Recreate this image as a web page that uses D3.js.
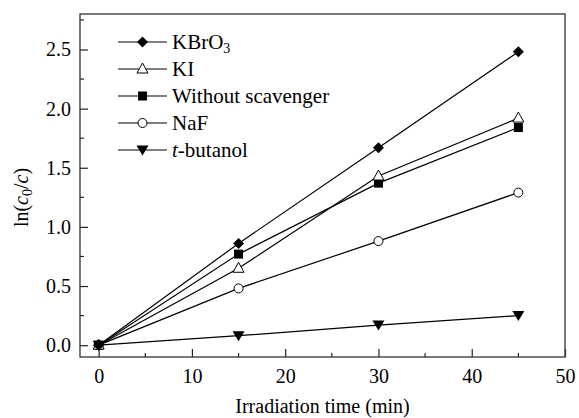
<!DOCTYPE html>
<html><head><meta charset="utf-8">
<script src="https://cdn.jsdelivr.net/npm/d3@7"></script>
<style>body{margin:0;background:#fff}svg{display:block}text{font-family:"Liberation Serif","Times New Roman",serif !important;fill:#000}</style>
</head><body><svg id="c" width="579" height="418"></svg>
<script>
const times = [0, 15, 30, 45];
const kbro3 = [0, 0.86, 1.67, 2.48];
const ki = [0, 0.65, 1.43, 1.92];
const without = [0, 0.77, 1.37, 1.84];
const naf = [0, 0.48, 0.88, 1.29];
const tbutanol = [0, 0.08, 0.17, 0.25];
const xTicks = [0, 10, 20, 30, 40, 50];
const yTicks = [0.0, 0.5, 1.0, 1.5, 2.0, 2.5];

const series = [
  {name: "KBrO3", values: kbro3, sym: "diamond"},
  {name: "KI", values: ki, sym: "triangle"},
  {name: "Without scavenger", values: without, sym: "square"},
  {name: "NaF", values: naf, sym: "circle"},
  {name: "t-butanol", values: tbutanol, sym: "tridown"}
];

const L = 80, R = 565, T = 14, B = 357;
const svg = d3.select("#c");
const x = d3.scaleLinear().domain([-2, 50]).range([L, R]);
const y = d3.scaleLinear().domain([-0.1, 2.8]).range([B, T]);
const fs = 20;
const ff = "'Liberation Serif','Times New Roman',serif";

function marker(g, type, cx, cy) {
  if (type === "diamond") g.append("path").attr("d", `M${cx},${cy-5.5}L${cx+5.5},${cy}L${cx},${cy+5.5}L${cx-5.5},${cy}Z`).attr("fill", "#000");
  else if (type === "square") g.append("rect").attr("x", cx-4.5).attr("y", cy-4.5).attr("width", 9).attr("height", 9).attr("fill", "#000");
  else if (type === "triangle") g.append("path").attr("d", `M${cx},${cy-6}L${cx+5.5},${cy+4}L${cx-5.5},${cy+4}Z`).attr("fill", "#fff").attr("stroke", "#000").attr("stroke-width", 1);
  else if (type === "circle") g.append("circle").attr("cx", cx).attr("cy", cy).attr("r", 4.5).attr("fill", "#fff").attr("stroke", "#000").attr("stroke-width", 1);
  else if (type === "tridown") g.append("path").attr("d", `M${cx-6},${cy-4.5}L${cx+6},${cy-4.5}L${cx},${cy+5.5}Z`).attr("fill", "#000");
}

// axes
const xAxis = d3.axisBottom(x).tickValues(xTicks).tickSize(-8).tickPadding(12).tickFormat(d3.format("d"));
const gx = svg.append("g").attr("transform", `translate(0,${B})`).call(xAxis);
const yAxis = d3.axisLeft(y).tickValues(yTicks).tickSize(-8).tickPadding(9).tickFormat(d3.format(".1f"));
const gy = svg.append("g").attr("transform", `translate(${L},0)`).call(yAxis);
[gx, gy].forEach(g => {
  g.attr("font-family", ff).attr("font-size", fs);
  g.select(".domain").remove();
  g.selectAll("line").attr("stroke", "#222").attr("stroke-width", 1.2);
  g.selectAll("text").style("font-size", fs + "px").style("font-family", ff).attr("fill", "#000");
});
gx.selectAll("text").attr("dy", "0.71em");
// minor ticks
const xMinor = d3.range(5, 50, 10);
svg.append("g").selectAll("line").data(xMinor).join("line")
  .attr("x1", d => x(d)).attr("x2", d => x(d)).attr("y1", B).attr("y2", B - 4)
  .attr("stroke", "#222").attr("stroke-width", 1.2);
const yMinor = [0.25, 0.75, 1.25, 1.75, 2.25, 2.75];
svg.append("g").selectAll("line").data(yMinor).join("line")
  .attr("y1", d => y(d)).attr("y2", d => y(d)).attr("x1", L).attr("x2", L + 4)
  .attr("stroke", "#222").attr("stroke-width", 1.2);
// frame
svg.append("rect").attr("x", L).attr("y", T).attr("width", R - L).attr("height", B - T)
  .attr("fill", "none").attr("stroke", "#333").attr("stroke-width", 1.3);

// lines
const line = d3.line().x((d, i) => x(times[i])).y(d => y(d));
series.forEach(s => {
  svg.append("path").attr("d", line(s.values)).attr("fill", "none").attr("stroke", "#000").attr("stroke-width", 1.2);
});
series.slice().reverse().forEach(s => {
  const g = svg.append("g");
  s.values.forEach((v, i) => marker(g, s.sym, x(times[i]), y(v)));
});

// legend
const legY0 = 42, legDy = 27;
series.forEach((s, i) => {
  const yy = legY0 + i * legDy;
  const g = svg.append("g");
  g.append("line").attr("x1", 118).attr("x2", 167).attr("y1", yy).attr("y2", yy).attr("stroke", "#000").attr("stroke-width", 1.2);
  marker(g, s.sym, 142.5, yy);
  const t = g.append("text").attr("x", 172).attr("y", yy + 7).style("font-size", (fs + 1) + "px");
  if (s.name === "KBrO3") {
    t.append("tspan").text("KBrO");
    t.append("tspan").text("3").style("font-size", "14px").attr("dy", 4);
  } else if (s.name === "t-butanol") {
    t.append("tspan").text("t").style("font-style", "italic");
    t.append("tspan").text("-butanol");
  } else t.text(s.name);
});

// axis titles
svg.append("text").attr("x", (L + R) / 2).attr("y", 413).attr("text-anchor", "middle").style("font-size", fs + "px").text("Irradiation time (min)");
const yl = svg.append("text").attr("transform", `translate(28,${(T + B) / 2 + 12}) rotate(-90)`).attr("text-anchor", "middle").style("font-size", fs + "px");
yl.append("tspan").text("ln(");
yl.append("tspan").text("c").style("font-style", "italic");
yl.append("tspan").text("0").style("font-size", "14px").attr("dy", 4);
yl.append("tspan").text("/").attr("dy", -4);
yl.append("tspan").text("c").style("font-style", "italic");
yl.append("tspan").text(")");
</script></body></html>
